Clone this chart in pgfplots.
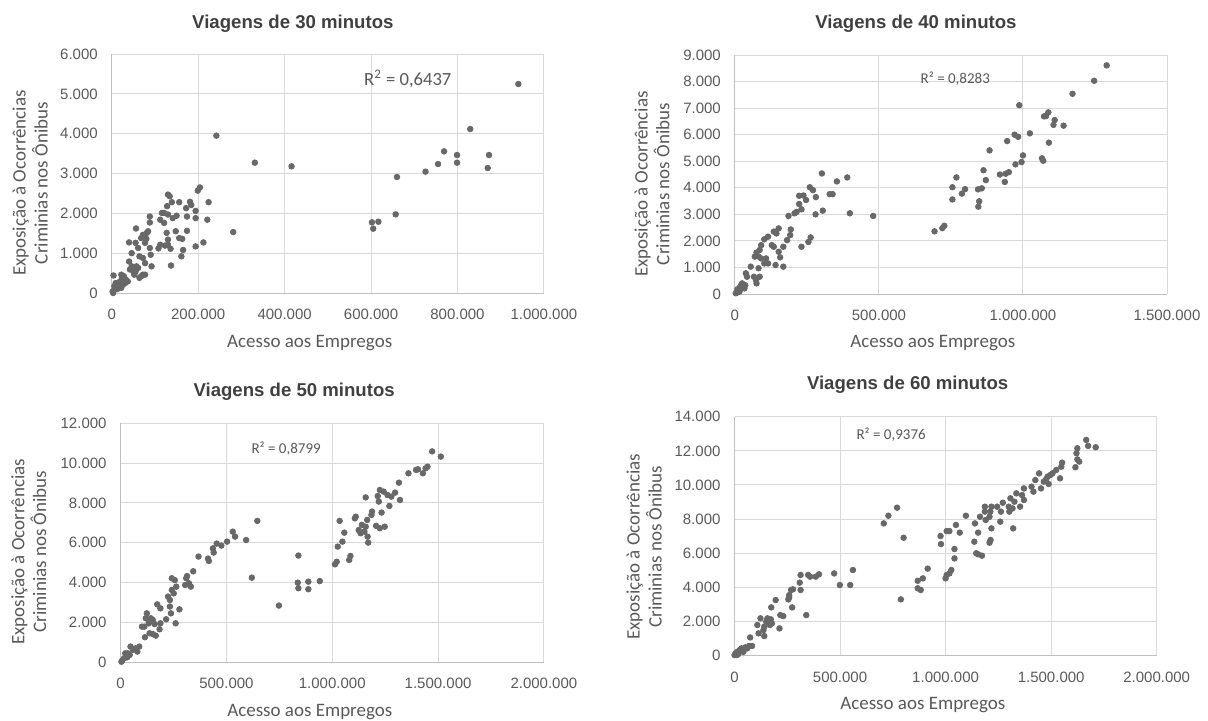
\documentclass[border=0pt]{standalone}
\usepackage{pgfplots}
\usepackage{pgfplotstable}
\pgfplotsset{compat=1.18}
\usepackage{fontspec}
\setmainfont{Liberation Sans}
\newfontfamily\carlito{Carlito}

\definecolor{dotgray}{RGB}{104,104,104}
\definecolor{txtgray}{RGB}{89,89,89}
\definecolor{ttlgray}{RGB}{64,64,64}
\definecolor{gridgray}{RGB}{217,217,217}
\definecolor{axgray}{RGB}{191,191,191}

% Viagens de 30 minutos
\pgfplotstableread{
x y
940800 5247
829500 4117
769000 3556
799000 3464
799000 3272
755000 3238
726000 3046
873000 3464
870000 3138
660000 2912
657000 1975
602000 1774
605000 1615
617000 1790
242000 3950
331000 3272
416000 3180
281000 1530
204000 2650
199000 2570
224000 2280
221000 1840
212000 1270
194000 1170
194000 2060
194000 1880
181000 2290
184000 2210
172000 2130
174000 1920
174000 1560
163000 1360
165000 1080
161000 920
156000 2280
150000 1940
148000 1550
156000 1380
141000 1880
130000 2470
134000 2430
139000 2280
128000 2180
130000 1970
127000 1510
130000 1340
130000 1210
136000 1110
137000 690
121000 2010
121000 1760
123000 1190
112000 1210
108000 1120
112000 1840
116000 2010
88000 1920
88000 1770
88000 1130
90000 960
92000 670
84000 1550
80000 1360
77000 1260
81000 1510
72000 1460
68000 1380
77000 750
72000 880
64000 920
56000 1620
55000 1260
61000 1130
57000 670
68000 420
72000 460
77000 460
46000 1000
40000 1270
40000 790
46000 670
42000 590
50000 540
55000 540
61000 630
64000 380
52000 460
4000 440
6000 80
11000 170
15000 250
19000 290
24000 380
28000 420
22000 460
33000 330
31000 250
37000 290
17000 150
26000 210
2000 40
13000 100
9000 250
22000 130
29000 290
3000 0
6000 170
}\tabA

% Viagens de 40 minutos
\pgfplotstableread{
x y
1290600 8610
1247000 8030
1172000 7540
987000 7110
1088000 6840
1073000 6690
1080000 6700
1110000 6550
1106000 6370
1141000 6340
1024000 6050
971000 6000
983000 5920
945000 5760
1090000 5700
1000000 5220
995000 4970
974000 4880
1066000 5110
1070000 5020
951000 4590
940000 4530
920000 4500
937000 4220
884000 5410
863000 4660
871000 4290
857000 3980
844000 3940
848000 3490
845000 3290
799000 3950
788000 3780
769000 4390
755000 4020
755000 3560
727000 2570
720000 2480
693000 2360
480000 2940
399000 3040
390000 4390
354000 4240
339000 3760
329000 3760
302000 4540
305000 3140
281000 3650
280000 3000
271000 3910
260000 4020
263000 2130
255000 1960
231000 1780
247000 3540
238000 3710
223000 3700
231000 3190
223000 3390
214000 3090
207000 3040
194000 2430
186000 2940
192000 2220
181000 2030
168000 1780
168000 1030
152000 2470
144000 2280
135000 2350
128000 1840
135000 1780
152000 1590
157000 1380
141000 1090
115000 2160
102000 2060
91000 1840
86000 1660
75000 1560
69000 1410
82000 1410
91000 1340
108000 1340
115000 1150
102000 1150
82000 970
73000 530
66000 650
55000 1030
38000 780
42000 650
86000 650
75000 400
7000 50
12000 150
17000 250
22000 340
29000 280
36000 330
25000 400
16000 90
9000 180
33000 210
3000 30
}\tabB

% Viagens de 50 minutos
\pgfplotstableread{
x y
1472000 10590
1513000 10330
1450000 9820
1441000 9740
1428000 9490
1405000 9690
1396000 9660
1360000 9490
1315000 9020
1320000 8150
1297000 8520
1279000 8320
1270000 7850
1261000 8400
1243000 8570
1225000 8650
1215000 8350
1220000 8070
1233000 7520
1248000 6810
1225000 6730
1207000 6850
1188000 7570
1185000 7400
1158000 8280
1165000 7150
1158000 6810
1152000 6560
1167000 6310
1170000 6010
1140000 6900
1134000 6480
1125000 6640
1111000 7310
1107000 7230
1080000 5140
1086000 5340
1057000 6510
1048000 6060
1035000 7100
1026000 5810
1021000 5050
1013000 4920
941000 4080
887000 4050
887000 3670
840000 5360
837000 4000
840000 3720
748000 2850
646000 7100
620000 4250
593000 6140
541000 6310
530000 6560
503000 6060
476000 5860
454000 5960
436000 5720
440000 5510
413000 5210
417000 5090
368000 5310
343000 4570
332000 3800
323000 3970
314000 4330
310000 4220
305000 3880
278000 2660
260000 1960
263000 3800
256000 4130
242000 4220
251000 3460
242000 3630
233000 3130
224000 3300
233000 2800
238000 2460
215000 2160
188000 2710
188000 1960
173000 2910
184000 1660
161000 1920
152000 2130
143000 2210
133000 1960
124000 2460
119000 2210
112000 1790
115000 1260
101000 1790
152000 1420
166000 1340
137000 1460
88000 790
79000 540
70000 700
47000 790
58000 620
34000 450
25000 320
16000 200
7000 80
43000 370
22000 450
4000 30
31000 250
}\tabC

% Viagens de 60 minutos
\pgfplotstableread{
x y
1666000 12640
1711000 12210
1675000 12290
1624000 12150
1620000 11860
1624000 11500
1615000 11040
1633000 11370
1552000 11310
1548000 11070
1542000 10390
1524000 10880
1506000 10680
1497000 10590
1483000 10490
1476000 10330
1488000 10060
1465000 10200
1443000 10680
1425000 10290
1452000 9800
1407000 9900
1416000 9610
1371000 9800
1362000 9410
1371000 9120
1353000 8730
1335000 9510
1326000 9020
1317000 8630
1307000 9220
1299000 8730
1302000 8440
1320000 7460
1271000 8960
1262000 8440
1259000 7850
1244000 8730
1217000 8730
1212000 8440
1208000 8140
1217000 7460
1213000 6780
1208000 6620
1186000 8730
1186000 8440
1190000 7950
1163000 8140
1154000 7210
1139000 7750
1136000 6680
1145000 6000
1172000 5860
1154000 5940
1096000 8200
1067000 7210
1049000 7660
1042000 6250
1042000 5700
1027000 5020
1018000 4820
1005000 4730
1000000 4530
1018000 7300
1005000 7300
976000 7010
978000 6540
915000 5100
892000 4530
868000 4390
868000 3950
882000 3850
801000 6910
770000 8670
729000 8200
707000 7750
788000 3300
561000 5020
548000 4140
499000 4140
472000 4820
400000 4770
385000 4630
358000 4630
349000 4730
340000 2380
313000 4730
313000 3850
309000 4280
277000 3890
268000 3850
259000 3550
255000 3300
259000 3420
273000 2830
231000 2320
217000 2380
213000 1600
195000 3260
174000 2830
172000 2130
177000 1890
168000 1800
156000 2190
150000 1990
141000 1700
137000 1500
123000 2190
108000 1800
114000 1310
141000 1150
74000 1070
69000 570
83000 570
60000 430
51000 490
33000 430
24000 330
14000 230
5000 140
0 40
42000 230
18000 100
11000 40
}\tabD

\pgfplotsset{
  panel/.style={
    scale only axis, height=119.5pt, anchor=south west,
    xmin=0, ymin=0,
    axis lines*=left,
    axis line style={-, draw=axgray, line width=0.5pt},
    grid=major,
    major grid style={draw=gridgray, line width=0.5pt},
    major tick length=0pt,
    scaled ticks=false,
    tick label style={font=\fontsize{7.5}{9}\selectfont, text=txtgray},
    xticklabel style={yshift=-4.5pt},
    yticklabel style={xshift=-3.5pt},
    /pgf/number format/fixed,
    /pgf/number format/precision=0,
    /pgf/number format/1000 sep={.},
    /pgf/number format/assume math mode=true,
    every axis title shift=0pt,
    title style={font=\bfseries\fontsize{9.3}{11}\selectfont, text=ttlgray, anchor=center},
    xlabel={Acesso aos Empregos},
    ylabel={Exposição à Ocorrências\\Criminias nos Ônibus},
    xlabel style={font=\carlito\fontsize{9.5}{11}\selectfont, text=txtgray, anchor=center},
    ylabel style={font=\carlito\fontsize{9.5}{10.9}\selectfont, text=txtgray, anchor=center, align=center},
  },
  dots/.style={only marks, mark=*, mark size=1.4pt,
    mark options={fill=dotgray, draw=dotgray}},
}
\tikzset{rsq/.style={font=\carlito\fontsize{#1}{10}\selectfont, text=txtgray, anchor=center}}

\begin{document}
\begin{tikzpicture}
\path[use as bounding box] (0,0) rectangle (604pt,360pt);

\begin{axis}[panel, at={(55.9pt,213.5pt)}, width=216.05pt,
  xmax=1000000, ymax=6000,
  xtick={0,200000,400000,600000,800000,1000000},
  ytick={0,1000,2000,3000,4000,5000,6000},
  title={Viagens de 30 minutos},
  title style={at={(axis description cs:0.419,1.125)}},
  xlabel style={at={(axis description cs:0.458,-0.209)}},
  ylabel style={at={(axis description cs:-0.189,0.46)}}]
\addplot[dots] table[x=x, y=y] {\tabA};
\node[rsq=9.3] at (rel axis cs:0.685,0.895) {R\textsuperscript{2} = 0,6437};
\end{axis}

\begin{axis}[panel, at={(367.45pt,213pt)}, width=216.05pt,
  xmax=1500000, ymax=9000,
  xtick={0,500000,1000000,1500000},
  ytick={0,1000,2000,3000,4000,5000,6000,7000,8000,9000},
  title={Viagens de 40 minutos},
  title style={at={(axis description cs:0.419,1.13)}},
  xlabel style={at={(axis description cs:0.458,-0.206)}},
  ylabel style={at={(axis description cs:-0.192,0.46)}}]
\addplot[dots] table[x=x, y=y] {\tabB};
\node[rsq=7.5] at (rel axis cs:0.51,0.902) {R² = 0,8283};
\end{axis}

\begin{axis}[panel, at={(60.3pt,28.85pt)}, width=211.65pt,
  xmax=2000000, ymax=12000,
  xtick={0,500000,1000000,1500000,2000000},
  ytick={0,2000,4000,6000,8000,10000,12000},
  title={Viagens de 50 minutos},
  title style={at={(axis description cs:0.41,1.132)}},
  xlabel style={at={(axis description cs:0.447,-0.207)}},
  ylabel style={at={(axis description cs:-0.217,0.463)}}]
\addplot[dots] table[x=x, y=y] {\tabC};
\node[rsq=7.5] at (rel axis cs:0.391,0.892) {R² = 0,8799};
\end{axis}

\begin{axis}[panel, at={(367.25pt,32.15pt)}, width=211.1pt,
  xmax=2000000, ymax=14000,
  xtick={0,500000,1000000,1500000,2000000},
  ytick={0,2000,4000,6000,8000,10000,12000,14000},
  title={Viagens de 60 minutos},
  title style={at={(axis description cs:0.41,1.133)}},
  xlabel style={at={(axis description cs:0.446,-0.206)}},
  ylabel style={at={(axis description cs:-0.214,0.456)}}]
\addplot[dots] table[x=x, y=y] {\tabD};
\node[rsq=7.5] at (rel axis cs:0.371,0.923) {R² = 0,9376};
\end{axis}
\end{tikzpicture}
\end{document}
